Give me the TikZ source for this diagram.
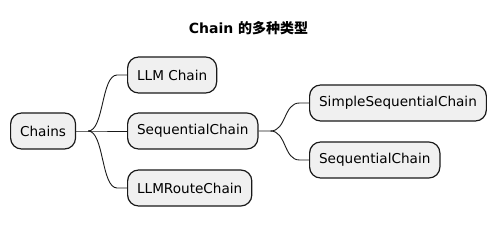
\documentclass[tikz,border=0pt]{standalone}
\usepackage{fontspec}
\setmainfont{DejaVu Sans}
\newfontfamily\cjk{Noto Sans CJK SC}
\begin{document}
\begin{tikzpicture}[x=1pt,y=-1pt]
      \tikzset{
        topic/.style={draw=black!90, fill=black!6, line width=1.2pt, rounded corners=11pt,
          minimum height=36pt, inner xsep=9.5pt, inner ysep=0pt, anchor=west,
          font=\fontsize{13.6}{16}\selectfont},
        link/.style={line width=0.9pt, black!90}
      }
      \useasboundingbox (0,0) rectangle (498,227);

      % TITLE
      \node[font=\fontsize{14}{16}\selectfont\bfseries] (title) at (248.5,28) {Chain {\cjk 的多种类型}};

      % NODES
      \node[topic] (chains) at (10,131) {Chains};
      \node[topic] (llm) at (127,75) {LLM Chain};
      \node[topic] (seq) at (127,131) {SequentialChain};
      \node[topic] (route) at (127,188) {LLMRouteChain};
      \node[topic] (simple) at (309,103) {SimpleSequentialChain};
      \node[topic] (seqb) at (309,160) {SequentialChain};

      % LINKS
      \draw[link] (chains.east) -- ++(12,0) coordinate (c1) -- (seq.west);
      \draw[link] (c1) .. controls +(16,0) and +(-16,0) .. ++(29,-56) -- (llm.west);
      \draw[link] (c1) .. controls +(16,0) and +(-16,0) .. ++(29,57) -- (route.west);
      \draw[link] (seq.east) -- ++(12,0) coordinate (c2)
        .. controls +(16,0) and +(-16,0) .. ++(29,-28) -- (simple.west);
      \draw[link] (c2) .. controls +(16,0) and +(-16,0) .. ++(29,29) -- (seqb.west);
    \end{tikzpicture}
\end{document}
